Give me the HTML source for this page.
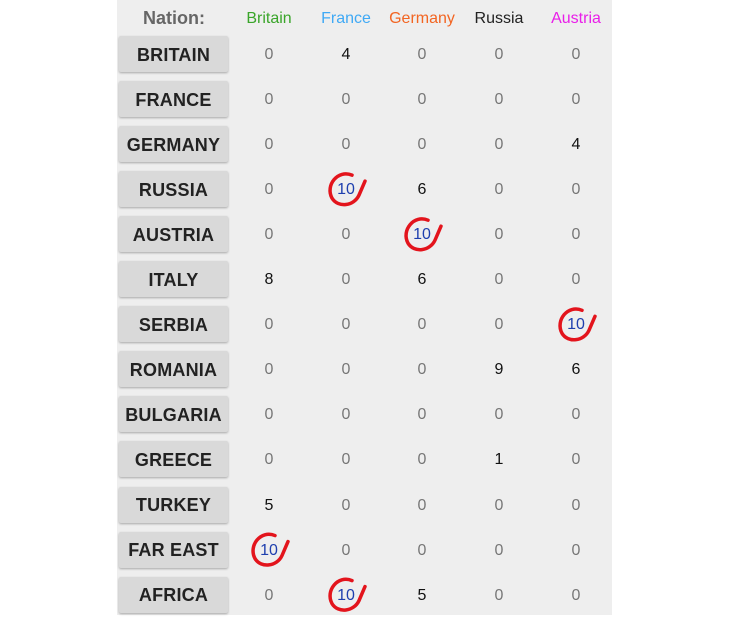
<!DOCTYPE html>
<html><head><meta charset="utf-8"><style>
body{margin:0;width:732px;height:619px;background:#fff;position:relative;overflow:hidden;font-family:"Liberation Sans",sans-serif}
#panel{position:absolute;left:117px;top:0;width:495px;height:615px;background:#eeeeee}
.h{position:absolute;top:10px;font-size:16px;transform:translateX(-50%);white-space:nowrap}
.btn{position:absolute;left:119px;width:109px;height:36px;background:#d9d9d9;border-radius:2px;box-shadow:0 1px 2px rgba(0,0,0,.3);font-size:18px;font-weight:bold;color:#222;display:flex;align-items:center;justify-content:center;padding-top:2px;box-sizing:border-box;letter-spacing:0.2px}
.v{position:absolute;font-size:16px;transform:translate(-50%,-50%)}
svg{position:absolute;left:0;top:0}
</style></head><body>
<div id="panel"></div>
<div class="h" style="left:174px;color:#666;font-weight:bold;font-size:18px;top:8px">Nation:</div>
<div id="root"></div>
<svg id="marks" width="732" height="619"></svg>
<script>
const nations=["BRITAIN","FRANCE","GERMANY","RUSSIA","AUSTRIA","ITALY","SERBIA","ROMANIA","BULGARIA","GREECE","TURKEY","FAR EAST","AFRICA"];
const cols=["Britain","France","Germany","Russia","Austria"];
const colColors=["#3aa52a","#3fa9f5","#f26522","#222","#e91ee9"];
const values=[
[0,4,0,0,0],[0,0,0,0,0],[0,0,0,0,4],[0,10,6,0,0],[0,0,10,0,0],[8,0,6,0,0],
[0,0,0,0,10],[0,0,0,9,6],[0,0,0,0,0],[0,0,0,1,0],[5,0,0,0,0],[10,0,0,0,0],[0,10,5,0,0]];
const colX=[269,346,422,499,576];
const row0=54,rowH=45.05;
const root=document.getElementById('root');
const svg=document.getElementById('marks');
cols.forEach((c,i)=>{
 const d=document.createElement('div');d.className='h';d.textContent=c;
 d.style.left=colX[i]+'px';d.style.color=colColors[i];
 
 
 root.appendChild(d);
});
nations.forEach((n,r)=>{
 const y=row0+r*rowH;
 const b=document.createElement('div');b.className='btn';b.textContent=n;b.style.top=(y-18)+'px';
 
 
 root.appendChild(b);
 values[r].forEach((v,c)=>{
  const d=document.createElement('div');d.className='v';d.textContent=v;
  d.style.left=colX[c]+'px';d.style.top=(y+1)+'px';
  d.style.color=v===0?'#777':(v>=10?'#1e3fae':'#111');
  
  
  root.appendChild(d);
  if(v>=10){
   const x=colX[c]-2;
   const p=document.createElementNS('http://www.w3.org/2000/svg','path');
   p.setAttribute('d',`M${x+8},${y-14} C${x-6},${y-20} ${x-19},${y-4} ${x-12},${y+9} C${x-6},${y+19} ${x+10},${y+17} ${x+15},${y+6} L${x+21},${y-8}`);
   p.setAttribute('fill','none');p.setAttribute('stroke','#e3141c');p.setAttribute('stroke-width','3.5');p.setAttribute('stroke-linecap','round');
   
   
   svg.appendChild(p);
  }
 });
});
</script>
</body></html>
